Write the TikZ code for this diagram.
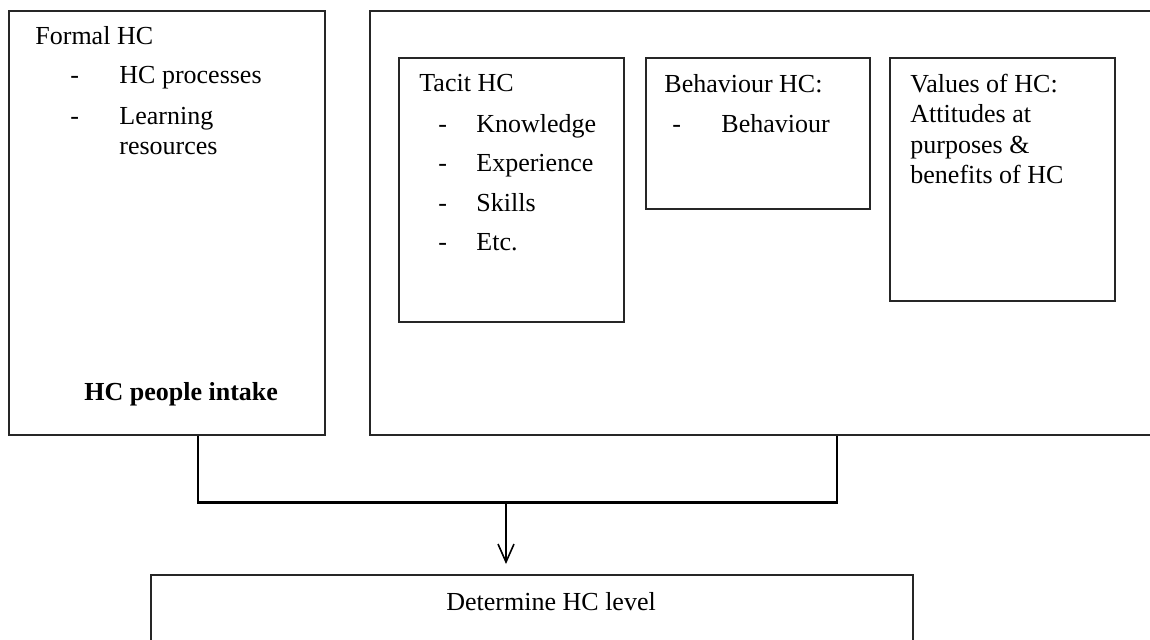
\documentclass[tikz,border=0pt]{standalone}
\usepackage{fontspec}
\setmainfont{Liberation Serif}
\usetikzlibrary{calc,arrows.meta}
\begin{document}
\begin{tikzpicture}[x=0.5pt,y=-0.5pt,
  box/.style={draw=black!85, line width=0.75pt, inner sep=0pt, anchor=north west},
  txt/.style={anchor=base west, inner sep=0pt, font=\fontsize{13}{15}\selectfont},
  conn/.style={draw=black, line width=1.2pt},
  arr/.style={draw=black, line width=0.8pt, -{Straight Barb[length=9pt,width=8pt,line width=0.8pt]}}]
\useasboundingbox (0,0) rectangle (1150,639);
\clip (0,0) rectangle (1150,639);
% boxes
\node[box, minimum width=158pt, minimum height=212pt] (formal) at (8,10) {};
\node[box, minimum width=400pt, minimum height=212pt] (right) at (369,10) {};
\node[box, minimum width=112.5pt, minimum height=132pt] (tacit) at (398,57) {};
\node[box, minimum width=112pt, minimum height=75.5pt] (behav) at (645,57) {};
\node[box, minimum width=112.5pt, minimum height=121.5pt] (values) at (889,57) {};
\node[box, minimum width=381pt, minimum height=50pt] (det) at (150,574) {};
% formal texts
\node[txt] (f0) at (35,44) {Formal HC};
\node[txt] (f1d) at (70,83) {-};
\node[txt] (f1) at (119,83) {HC processes};
\node[txt] (f2d) at (70,124) {-};
\node[txt] (f2) at (119,124) {Learning};
\node[txt] (f3) at (119,154) {resources};
\node[txt, font=\fontsize{13}{15}\selectfont\bfseries] (f4) at (84,400) {HC people intake};
% tacit texts
\node[txt] (t0) at (419,91) {Tacit HC};
\node[txt] (t1d) at (438,132) {-};
\node[txt] (t1) at (476,132) {Knowledge};
\node[txt] (t2d) at (438,171) {-};
\node[txt] (t2) at (476,171) {Experience};
\node[txt] (t3d) at (438,211) {-};
\node[txt] (t3) at (476,211) {Skills};
\node[txt] (t4d) at (438,250) {-};
\node[txt] (t4) at (476,250) {Etc.};
% behaviour texts
\node[txt] (b0) at (664,92) {Behaviour HC:};
\node[txt] (b1d) at (672,132) {-};
\node[txt] (b1) at (721,132) {Behaviour};
% values texts
\node[txt] (v0) at (910,92) {Values of HC:};
\node[txt] (v1) at (910,122) {Attitudes at};
\node[txt] (v2) at (910,153) {purposes \&};
\node[txt] (v3) at (910,183) {benefits of HC};
% determine
\node[txt] (d0) at (446,610) {Determine HC level};
% connectors
\coordinate (l1) at ($(formal.south west)+(190,0)$);
\coordinate (r1) at ($(right.south west)+(468,0)$);
\draw[conn] (l1) -- ++(0,67) -| (r1);
\coordinate (j) at ($(l1)+(308,67)$);
\draw[arr, shorten >=5pt] (j) -- (j |- det.north);
\end{tikzpicture}
\end{document}
